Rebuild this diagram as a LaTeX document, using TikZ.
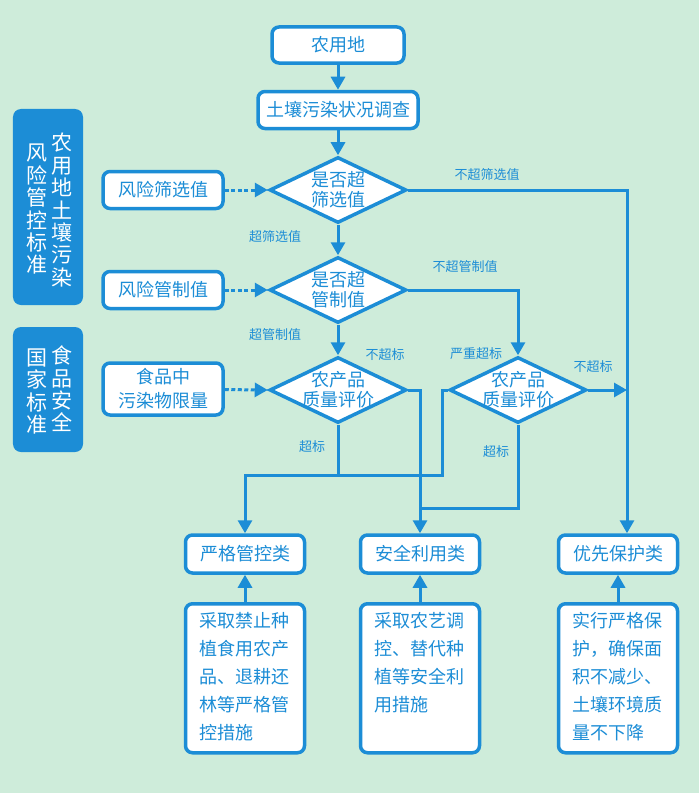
\documentclass[tikz,border=0pt]{standalone}
\usepackage{fontspec}
\newfontfamily\cjk{Noto Sans CJK SC}
\usetikzlibrary{shapes.geometric, arrows.meta}
\definecolor{lineblue}{RGB}{28,141,214}
\definecolor{mint}{RGB}{206,236,218}

\tikzset{
  box/.style={draw=lineblue, line width=3.5bp, rounded corners=7bp, fill=white, text=lineblue,
    inner sep=0pt, align=center, font=\cjk\fontsize{18bp}{24bp}\selectfont},
  catbox/.style={box, minimum width=119bp, minimum height=38bp},
  inbox/.style={box, minimum width=120bp, minimum height=37bp},
  desc/.style={box, align=left, text width=91bp, inner xsep=14bp, inner ysep=6bp,
    text height=18bp, text depth=119bp, anchor=north, font=\cjk\fontsize{18bp}{28bp}\selectfont},
  decision/.style={diamond, draw=lineblue, line width=3.5bp, fill=white, inner sep=0pt,
    minimum width=137bp, minimum height=66bp},
  dtext/.style={text=lineblue, align=center, inner sep=0pt, font=\cjk\fontsize{18bp}{20bp}\selectfont},
  panel/.style={fill=lineblue, rounded corners=8bp, minimum width=70bp, inner sep=0pt},
  vtext/.style={text=white, align=center, inner sep=0pt, font=\cjk\fontsize{21bp}{22.4bp}\selectfont},
  lab/.style={text=lineblue, inner sep=0pt, font=\cjk\fontsize{13bp}{15bp}\selectfont},
  link/.style={draw=lineblue, line width=3bp},
  arr/.style={link, -{Triangle[length=13bp, width=14bp]}},
  dotarr/.style={arr, dash pattern=on 4bp off 2.5bp}
}

\begin{document}
\begin{tikzpicture}[x=1bp, y=-1bp]
\useasboundingbox (0,0) rectangle (699,793);
\fill[mint] (0,0) rectangle (699,793);

\node[panel, minimum height=196bp] (soilstd) at (48,207) {};
\node[vtext] (soilstdr) at (62,210) {农\\用\\地\\土\\壤\\污\\染};
\node[vtext] (soilstdl) at (37,209.5) {风\\险\\管\\控\\标\\准};
\node[panel, minimum height=125bp] (foodstd) at (48,389.5) {};
\node[vtext] (foodstdr) at (62,389) {食\\品\\安\\全};
\node[vtext] (foodstdl) at (37,391.5) {国\\家\\标\\准};

\node[box, minimum width=132bp, minimum height=36bp] (land) at (338,45) {农用地};
\node[box, minimum width=160bp, minimum height=37bp] (survey) at (338,110) {土壤污染状况调查};
\node[decision, label={[dtext]center:{是否超\\筛选值}}] (d1) at (338,190) {};
\node[decision, label={[dtext]center:{是否超\\管制值}}] (d2) at (338,290) {};
\node[decision, label={[dtext]center:{农产品\\质量评价}}] (d3) at (338,390) {};
\node[decision, label={[dtext]center:{农产品\\质量评价}}] (d4) at (518,390) {};

\node[inbox] (screen) at (163,190) {风险筛选值};
\node[inbox] (control) at (163,290) {风险管制值};
\node[inbox, minimum height=52bp] (limit) at (163,389) {食品中\\污染物限量};

\node[catbox] (strict) at (245,554) {严格管控类};
\node[catbox] (safe) at (420,554) {安全利用类};
\node[catbox] (prio) at (618,554) {优先保护类};

\node[desc] (strictdesc) at (245,602) {采取禁止种\\植食用农产\\品、退耕还\\林等严格管\\控措施};
\node[desc] (safedesc) at (420,602) {采取农艺调\\控、替代种\\植等安全利\\用措施};
\node[desc] (priodesc) at (618,602) {实行严格保\\护，确保面\\积不减少、\\土壤环境质\\量不下降};

\coordinate (rail) at (627,190);
\coordinate (kink) at (442,475);
\coordinate (jsafe) at (420,508);

\draw[arr] (land) -- (survey);
\draw[arr] (survey) -- (d1);
\draw[arr] (d1) -- (d2);
\draw[arr] (d2) -- (d3);
\draw[dotarr] (screen) -- (d1.west);
\draw[dotarr] (control) -- (d2.west);
\draw[dotarr] (limit) -- (d3.west);
\draw[arr] (d1.east) -- (rail) -- (rail |- prio.north);
\draw[arr] (d2.east) -| (d4.north);
\draw[arr] (d4.east) -- (d4.east -| rail);
\draw[arr] (d3.east) -| (safe.north);
\draw[arr] (d4.west) -| (kink) -| (strict.north);
\draw[link] (d3.south) -- (d3.south |- kink);
\draw[link] (d4.south) |- (jsafe);
\draw[arr] (strictdesc) -- (strict);
\draw[arr] (safedesc) -- (safe);
\draw[arr] (priodesc) -- (prio);

\node[lab] (l1) at (487,175) {不超筛选值};
\node[lab] (l2) at (275,237) {超筛选值};
\node[lab] (l3) at (465,267) {不超管制值};
\node[lab] (l4) at (275,335) {超管制值};
\node[lab] (l5) at (385,355) {不超标};
\node[lab] (l6) at (476,354) {严重超标};
\node[lab] (l7) at (593,367) {不超标};
\node[lab] (l8) at (312,447) {超标};
\node[lab] (l9) at (496,452) {超标};
\end{tikzpicture}
\end{document}
